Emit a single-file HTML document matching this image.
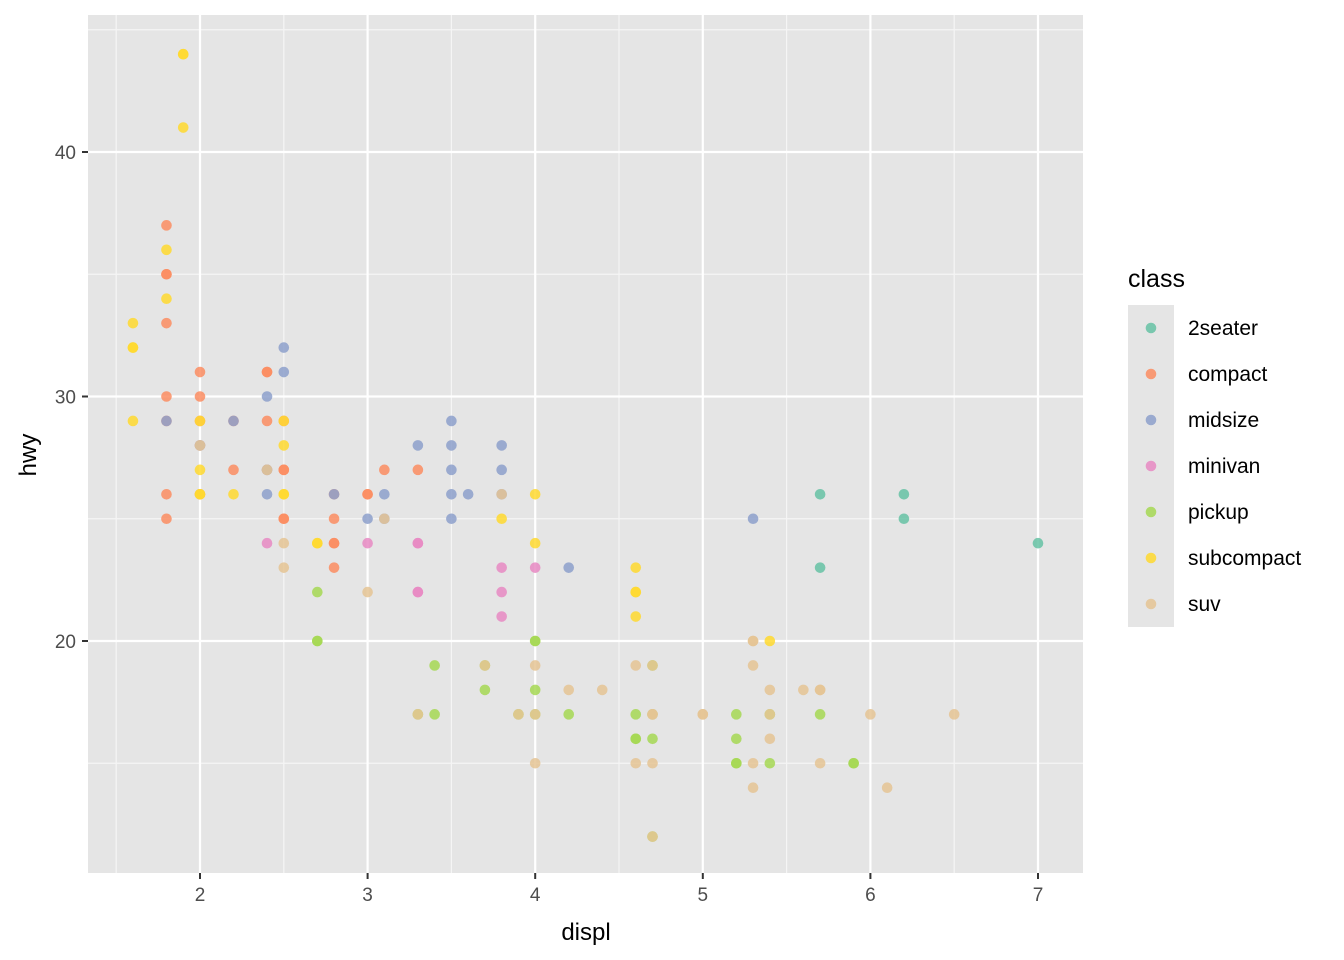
<!DOCTYPE html>
<html><head><meta charset="utf-8"><style>
body{margin:0;background:#fff}
svg{display:block;font-family:"Liberation Sans",Arial,sans-serif}
</style></head><body>
<svg id="s" width="1344" height="960" viewBox="0 0 1344 960" xmlns="http://www.w3.org/2000/svg">
<rect x="88" y="15" width="995" height="858" fill="#e5e5e5"/>
<g id="grid"></g>
<g id="pts"></g>
<g id="ax" font-size="19" fill="#4d4d4d"></g>
<text x="586" y="940" font-size="24" text-anchor="middle" fill="#000">displ</text>
<text transform="translate(36,455) rotate(-90)" font-size="24" text-anchor="middle" fill="#000">hwy</text>
<text x="1128" y="287" font-size="25" fill="#000">class</text>
<rect x="1128" y="305" width="46" height="322" fill="#e5e5e5"/>
<g id="leg" font-size="21" fill="#000"></g>
</svg>
<script>
const X=d=>200+(d-2)*167.6, Y=h=>641-(h-20)*24.45;
const NS="http://www.w3.org/2000/svg";
function el(p,t,a,txt){const e=document.createElementNS(NS,t);for(const k in a)e.setAttribute(k,a[k]);if(txt)e.textContent=txt;document.getElementById(p).appendChild(e);}
[1.5,2.5,3.5,4.5,5.5,6.5].forEach(d=>el("grid","line",{x1:X(d),x2:X(d),y1:15,y2:873,stroke:"#f5f5f5","stroke-width":1.2}));
[15,25,35,45].forEach(h=>el("grid","line",{x1:88,x2:1083,y1:Y(h),y2:Y(h),stroke:"#f5f5f5","stroke-width":1.2}));
[2,3,4,5,6,7].forEach(d=>{el("grid","line",{x1:X(d),x2:X(d),y1:15,y2:873,stroke:"#fff","stroke-width":2.2});
 el("ax","line",{x1:X(d),x2:X(d),y1:873,y2:879,stroke:"#333","stroke-width":2});
 el("ax","text",{x:X(d),y:901,"text-anchor":"middle"},String(d));});
[20,30,40].forEach(h=>{el("grid","line",{x1:88,x2:1083,y1:Y(h),y2:Y(h),stroke:"#fff","stroke-width":2.2});
 el("ax","line",{x1:82,x2:88,y1:Y(h),y2:Y(h),stroke:"#333","stroke-width":2});
 el("ax","text",{x:76,y:Y(h)+7,"text-anchor":"end"},String(h));});
const C={"2seater":"#66C2A5",compact:"#FC8D62",midsize:"#8DA0CB",minivan:"#E78AC3",pickup:"#A6D854",subcompact:"#FFD92F",suv:"#E5C494"};
const D={
"2seater":[[5.7,26],[5.7,23],[6.2,26],[6.2,25],[7,24]],
compact:[[1.8,37],[1.8,35],[1.8,35],[1.8,33],[1.8,30],[1.8,29],[1.8,26],[1.8,25],[2,31],[2,30],[2,29],[2,28],[2.2,29],[2.2,27],[2.4,31],[2.4,31],[2.4,29],[2.4,27],[2.5,27],[2.5,27],[2.5,25],[2.5,25],[2.5,29],[2.8,26],[2.8,25],[2.8,24],[2.8,23],[3,26],[3,26],[3.1,27],[3.3,27],[2,26],[2.8,24]],
midsize:[[1.8,29],[2,28],[2.4,30],[2.4,26],[2.4,27],[2.5,32],[2.5,31],[2.8,26],[3,25],[3.1,26],[3.1,25],[3.3,28],[3.5,29],[3.5,28],[3.5,27],[3.5,26],[3.5,25],[3.6,26],[3.8,28],[3.8,27],[3.8,26],[4.2,23],[5.3,25],[2.2,29]],
minivan:[[2.4,24],[3,24],[3.3,24],[3.3,24],[3.3,22],[3.3,22],[3.8,23],[3.8,22],[3.8,21],[4,23]],
pickup:[[2.7,22],[2.7,20],[2.7,20],[3.4,19],[3.4,17],[3.7,18],[3.7,19],[3.9,17],[4,20],[4,20],[4,18],[4,17],[4.2,17],[4.6,17],[4.6,16],[4.6,16],[4.7,17],[4.7,16],[4.7,12],[4.7,19],[5.2,17],[5.2,16],[5.2,15],[5.2,15],[5.4,15],[5.4,17],[5.7,17],[5.9,15],[5.9,15],[3.3,17]],
subcompact:[[1.9,44],[1.9,44],[1.9,41],[1.8,36],[1.8,34],[1.6,33],[1.6,32],[1.6,32],[1.6,29],[2,27],[2,26],[2,26],[2.2,26],[2.5,29],[2.5,28],[2.5,26],[2.5,26],[2.7,24],[2.7,24],[3.8,25],[4,26],[4,24],[4.6,23],[4.6,22],[4.6,22],[4.6,21],[5.4,20],[2,29]],
suv:[[2.5,24],[2.5,23],[3,22],[3.3,17],[3.7,19],[3.9,17],[4,19],[4,17],[4,15],[4.2,18],[4.4,18],[4.6,19],[4.6,15],[4.7,19],[4.7,17],[4.7,17],[4.7,15],[4.7,12],[5,17],[5,17],[5.3,20],[5.3,20],[5.3,19],[5.3,15],[5.3,14],[5.4,18],[5.4,17],[5.4,16],[5.6,18],[5.7,18],[5.7,18],[5.7,15],[6,17],[6.1,14],[6.5,17],[2,28],[2.4,27],[3.1,25],[3.8,26]]};
for(const k in D)D[k].forEach(p=>el("pts","circle",{cx:X(p[0]),cy:Y(p[1]),r:5.3,fill:C[k],"fill-opacity":0.85}));
Object.keys(C).forEach((k,i)=>{const y=328+i*46;
 el("leg","circle",{cx:1151,cy:y,r:5.3,fill:C[k],"fill-opacity":0.85});
 el("leg","text",{x:1188,y:y+7},k);});
</script>
</body></html>
